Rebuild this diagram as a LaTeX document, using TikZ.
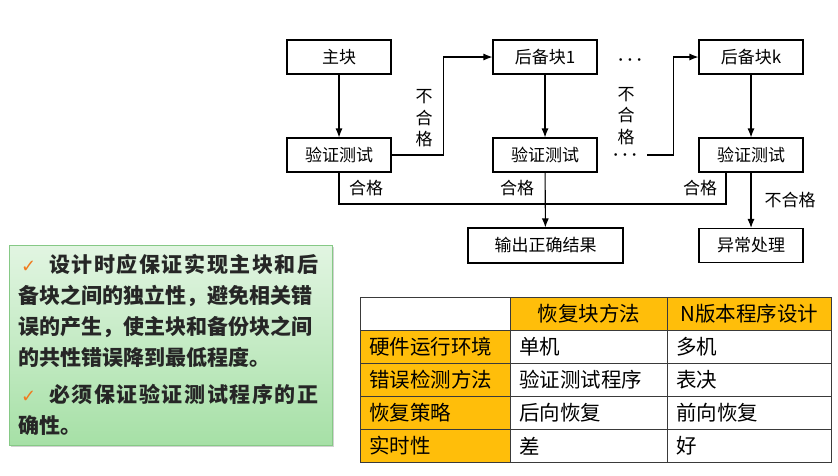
\documentclass[tikz,border=0pt]{standalone}
\usepackage{fontspec}
\setmainfont{Noto Sans CJK SC}
\newfontfamily\symfont{DejaVu Sans}
\usepackage{tikz}
\usetikzlibrary{arrows.meta,positioning,calc,shadows}
\definecolor{tickorange}{HTML}{F07A1E}
\definecolor{cellorange}{HTML}{FFBE0A}
\definecolor{notetop}{HTML}{E2F5E2}
\definecolor{notebot}{HTML}{A6E0A6}
\definecolor{noteline}{HTML}{86C986}
\definecolor{gridgray}{HTML}{3A3A3A}
\newcommand{\flowfont}{\fontsize{17pt}{21.5pt}\selectfont}
\newcommand{\notefont}{\fontsize{21pt}{31pt}\selectfont\bfseries}
\newcommand{\tabfont}{\fontsize{20.5pt}{24pt}\selectfont}
\newcommand{\tick}{\makebox[30pt][l]{\hspace{2pt}\color{tickorange}\symfont\fontsize{18pt}{18pt}\selectfont ✓}}
\newcommand{\wide}{\addfontfeature{LetterSpace=7.5}}
\newcommand{\onedot}{{\fontsize{6pt}{6pt}\selectfont$\bullet$}}
\newcommand{\threedots}{\onedot\hspace{5.5pt}\onedot\hspace{5.5pt}\onedot}

\begin{document}
\begin{tikzpicture}[
 x=1pt,y=-1pt,
 font=\flowfont,
 blk/.style={draw,line width=1.1pt,fill=white,minimum width=104pt,minimum height=34pt,inner sep=0pt},
 arr/.style={-{Latex[length=9pt,width=7pt]},line width=1.1pt},
 wire/.style={line width=1.1pt},
 lbl/.style={inner sep=0pt,align=center},
 cell/.style={draw=gridgray,line width=0.8pt,minimum height=33pt,anchor=north west,inner xsep=9pt,inner ysep=0pt,font=\tabfont},
 hcell/.style={cell,fill=cellorange}
]
\useasboundingbox[fill=white] (0,0) rectangle (838,475);

% flow chart
\node[blk] (main) at (339,57) {主块};
\node[blk] (t1) at (339,155) {验证测试};
\node[blk] (b1) at (545,57) {后备块1};
\node[blk] (t2) at (545,155) {验证测试};
\node[blk] (bk) at (751,57) {后备块k};
\node[blk] (t3) at (751,155) {验证测试};
\node[blk] (err) at (751,245.5) {异常处理};
\node[blk,minimum width=155pt,minimum height=35pt] (out) at (545.5,245.5) {输出正确结果};
\node[lbl] (d1) at (630,60) {\threedots};
\node[lbl] (d2) at (625,155) {\threedots};
\coordinate (okr) at (726,204);

\draw[arr] (main) -- (t1);
\draw[arr] (b1) -- (t2);
\draw[arr] (bk) -- (t3);
\draw[arr] (t3) -- (err);
\draw[arr] (t2) -- (out);
\draw[arr] (t1.east) -- ++(52,0) |- (b1.west);
\draw[arr] ([xshift=11pt]d2.east) -- ++(26,0) |- (bk.west);
\draw[wire] (t1.south) |- (okr) -- (okr |- t3.south);

\node[lbl] (nf1) at (424,118.5) {不\\合\\格};
\node[lbl] (nf2) at (626,116) {不\\合\\格};
\node[lbl] (ok1) at (366,188) {合格};
\node[lbl] (ok2) at (517,188) {合格};
\node[lbl] (ok3) at (700,188) {合格};
\node[lbl] (nf3) at (790,200) {不合格};

% note
\node[draw=noteline,line width=0.8pt,top color=notetop,bottom color=notebot,
  drop shadow={opacity=0.35,shadow xshift=2pt,shadow yshift=-2pt},
  minimum width=323pt,minimum height=200pt,text width=303pt,inner xsep=10pt,
  align=left,font=\notefont,text=black!85] (note) at (170.5,345)
 {\tick{\wide 设计时应保证实现主块和后}\\
  备块之间的独立性，避免相关错\\
  误的产生，使主块和备份块之间\\
  的共性错误降到最低程度。\\[6pt]
  \tick{\wide 必须保证验证测试程序的正}\\
  确性。};

% table
\node[cell,minimum width=150pt] (c00) at (360,297) {};
\node[hcell,text width=139pt,align=center] (c01) at (510,297) {恢复块方法};
\node[hcell,text width=146pt,align=center] (c02) at (667,297) {N版本程序设计};
\node[hcell,text width=132pt,align=left] (c10) at (360,330) {硬件运行环境};
\node[cell,text width=139pt,align=left] (c11) at (510,330) {单机};
\node[cell,text width=146pt,align=left] (c12) at (667,330) {多机};
\node[hcell,text width=132pt,align=left] (c20) at (360,363) {错误检测方法};
\node[cell,text width=139pt,align=left] (c21) at (510,363) {验证测试程序};
\node[cell,text width=146pt,align=left] (c22) at (667,363) {表决};
\node[hcell,text width=132pt,align=left] (c30) at (360,396) {恢复策略};
\node[cell,text width=139pt,align=left] (c31) at (510,396) {后向恢复};
\node[cell,text width=146pt,align=left] (c32) at (667,396) {前向恢复};
\node[hcell,text width=132pt,align=left] (c40) at (360,429) {实时性};
\node[cell,text width=139pt,align=left] (c41) at (510,429) {差};
\node[cell,text width=146pt,align=left] (c42) at (667,429) {好};
\end{tikzpicture}
\end{document}
